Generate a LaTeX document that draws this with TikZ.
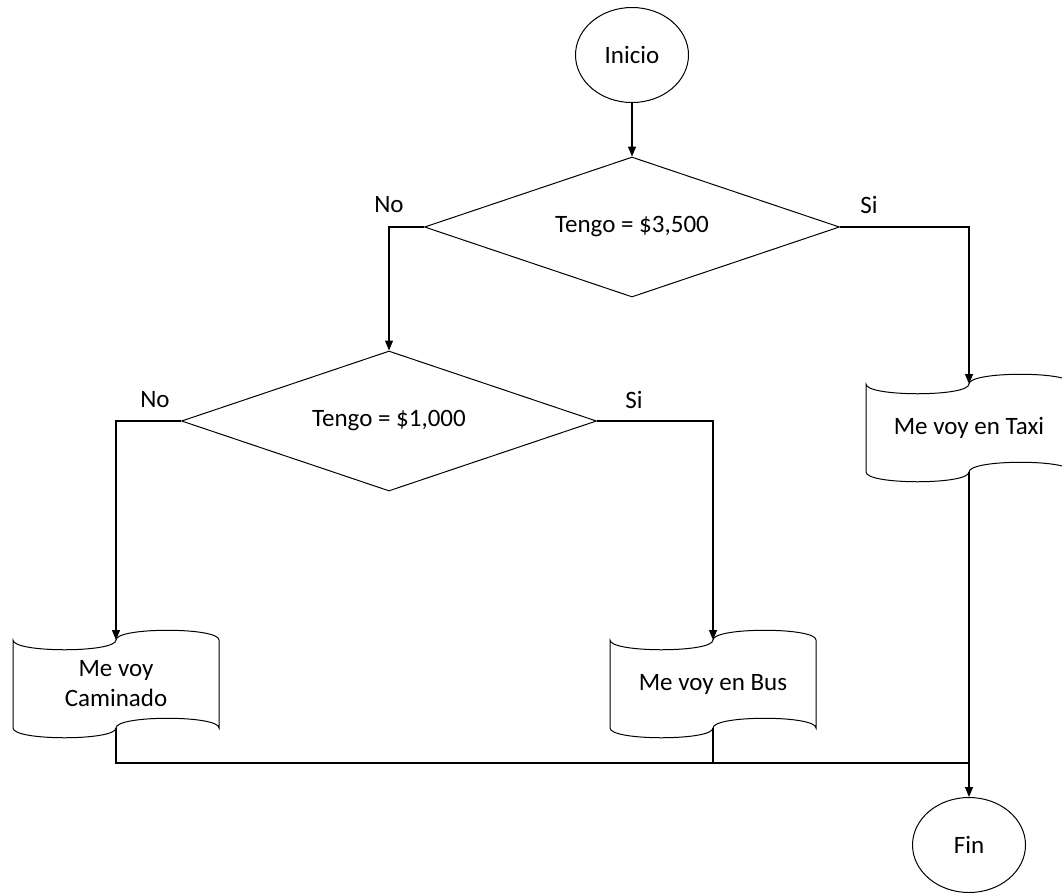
\documentclass[tikz,border=0pt]{standalone}
\usepackage{fontspec}
\setmainfont{Carlito}
\usetikzlibrary{shapes.geometric}
\usetikzlibrary{arrows.meta}

\tikzset{
  flowline/.style={line width=1.2pt},
  flowarrow/.style={flowline, -{Triangle[length=10pt,width=8pt]}},
  terminal/.style={draw, ellipse, line width=1pt, minimum width=113pt, minimum height=95pt, inner sep=0pt},
  decision/.style={draw, diamond, aspect=3, line width=1pt, minimum width=415pt, minimum height=140pt, inner sep=0pt},
  pics/tape/.style={code={
    \draw[line width=1pt] (-103,44) .. controls (-103,31) and (0,31) .. (0,44)
      .. controls (0,57) and (103,57) .. (103,44) -- (103,-44)
      .. controls (103,-31) and (0,-31) .. (0,-44)
      .. controls (0,-57) and (-103,-57) .. (-103,-44) -- cycle;
    \coordinate (-top) at (0,44);
    \coordinate (-bot) at (0,-44);
    \node[align=center] (-text) at (0,0) {#1};
  }}
}

\begin{document}
\begin{tikzpicture}[x=1pt,y=1pt,yscale=-1,font=\fontsize{25}{30}\selectfont]
  \useasboundingbox (0,0) rectangle (1062,892);

  %Shape: Ellipse [start]
  \node[terminal] (inicio) at (632,55) {Inicio};
  %Shape: Diamond
  \node[decision] (d1) at (632,227) {Tengo = \$3,500};
  \node[decision] (d2) at (389,421) {Tengo = \$1,000};

  %Shape: Punched tape
  \pic (cam) at (116,684) {tape={Me voy\\Caminado}};
  \pic (bus) at (713,684) {tape={Me voy en Bus}};
  \pic (taxi) at (969,428) {tape={Me voy en Taxi}};

  %Shape: Ellipse [end]
  \node[terminal] (fin) at (969,845) {Fin};

  % Text Node
  \node (no1) at (389,205) {No};
  % Text Node
  \node (si1) at (869,205) {Si};
  % Text Node
  \node (no2) at (155,400) {No};
  % Text Node
  \node (si2) at (634,400) {Si};

  % Connectors
  \draw[flowarrow] (inicio) -- (d1);
  \draw[flowarrow] (d1.west) -| (d2);
  \draw[flowarrow] (d1.east) -| (taxi-top);
  \draw[flowarrow] (d2.west) -| (cam-top);
  \draw[flowarrow] (d2.east) -| (bus-top);
  \coordinate (join) at (969,763);
  \draw[flowline] (cam-bot) |- (join);
  \draw[flowline] (bus-bot) |- (join);
  \draw[flowarrow] (taxi-bot) -- (fin);
\end{tikzpicture}
\end{document}
